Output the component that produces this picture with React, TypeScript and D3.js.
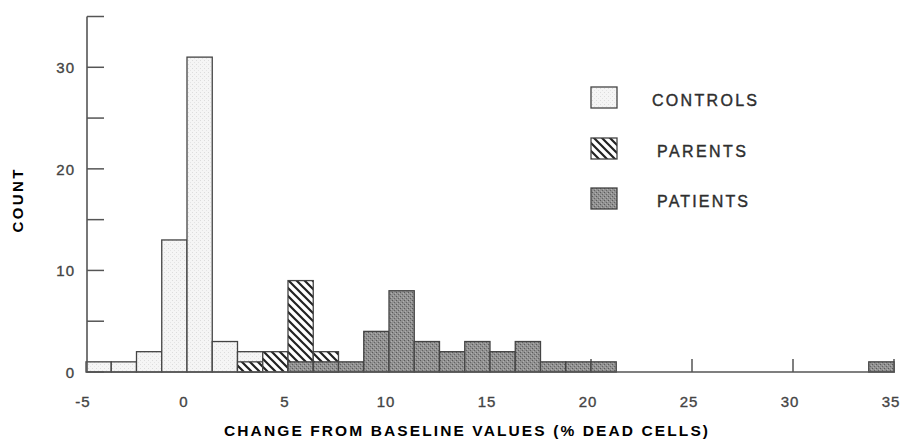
import * as d3 from "d3";

// bin starts (% dead cells), bins are 1.25 wide
const binStarts = [
  -5, -3.75, -2.5, -1.25, 0, 1.25, 2.5, 3.75, 5, 6.25, 7.5, 8.75, 10, 11.25, 12.5, 13.75,
  15, 16.25, 17.5, 18.75, 20, 21.25, 22.5, 23.75, 25, 26.25, 27.5, 28.75, 30, 31.25, 32.5, 33.75,
];
const binWidth = 1.25;

const controls = [1, 1, 2, 13, 31, 3, 2, 0, 0, 0, 0, 0, 0, 0, 0, 0, 0, 0, 0, 0, 0, 0, 0, 0, 0, 0, 0, 0, 0, 0, 0, 0];
const parents = [0, 0, 0, 0, 0, 0, 1, 2, 9, 2, 0, 0, 0, 0, 0, 0, 0, 0, 0, 0, 0, 0, 0, 0, 0, 0, 0, 0, 0, 0, 0, 0];
const patients = [0, 0, 0, 0, 0, 0, 0, 0, 1, 1, 1, 4, 8, 3, 2, 3, 2, 3, 1, 1, 1, 0, 0, 0, 0, 0, 0, 0, 0, 0, 0, 1];

const xTicks = [-5, 0, 5, 10, 15, 20, 25, 30, 35];
const yTicks = [0, 5, 10, 15, 20, 25, 30, 35];
const yLabels = [0, 10, 20, 30];

const groups = [
  { name: "CONTROLS", values: controls, fill: "url(#stipLight)", y: 97, len: 105 },
  { name: "PARENTS", values: parents, fill: "url(#hatch)", y: 148, len: 89 },
  { name: "PATIENTS", values: patients, fill: "url(#stipDark)", y: 198, len: 91 },
];

export default function App() {
  const x = d3.scaleLinear().domain([-5, 35]).range([86, 894]);
  const y = d3.scaleLinear().domain([0, 35]).range([372, 16.5]);
  const axisColor = "#555";
  const font = "'Liberation Sans', Arial, Helvetica, sans-serif";

  return (
    <svg width={901} height={441} style={{ position: "absolute", left: 0, top: 0, background: "#fff" }}>
      <defs>
        <pattern id="stipLight" width={4} height={4} patternUnits="userSpaceOnUse">
          <rect width={4} height={4} fill="#f5f5f5" />
          <rect x={0} y={0} width={1} height={1} fill="#dcdcdc" />
          <rect x={2} y={2} width={1} height={1} fill="#e4e4e4" />
        </pattern>
        <pattern id="stipDark" width={4} height={4} patternUnits="userSpaceOnUse">
          <rect width={4} height={4} fill="#919191" />
          <rect x={0} y={0} width={1} height={1} fill="#5a5a5a" />
          <rect x={2} y={2} width={1} height={1} fill="#646464" />
          <rect x={3} y={1} width={1} height={1} fill="#b0b0b0" />
          <rect x={1} y={3} width={1} height={1} fill="#acacac" />
        </pattern>
        <pattern id="hatch" width={8} height={8} patternUnits="userSpaceOnUse">
          <rect width={8} height={8} fill="#fff" />
          <path d="M0,0 L8,8 M-4,4 L4,12 M4,-4 L12,4" stroke="#222" strokeWidth={2.2} />
        </pattern>
      </defs>

      {/* x ticks (inward) */}
      {xTicks.slice(1).map((t) => (
        <line key={"xt" + t} x1={x(t)} x2={x(t)} y1={y(0)} y2={y(0) - 13} stroke={axisColor} strokeWidth={1.5} />
      ))}

      {/* bars, drawn in order so patients sit in front */}
      {groups.map((g) => (
        <g key={g.name}>
          {g.values.map((v, i) =>
            v > 0 ? (
              <rect
                key={i}
                x={x(binStarts[i])}
                y={y(v)}
                width={x(binStarts[i] + binWidth) - x(binStarts[i])}
                height={y(0) - y(v)}
                fill={g.fill}
                stroke="#444"
                strokeWidth={1.3}
              />
            ) : null
          )}
        </g>
      ))}

      {/* axes */}
      <line x1={x(-5)} x2={x(35) + 1} y1={y(0)} y2={y(0)} stroke={axisColor} strokeWidth={1.6} />
      <line x1={x(-5) + 1} x2={x(-5) + 1} y1={y(35)} y2={y(0)} stroke={axisColor} strokeWidth={1.6} />
      {yTicks.map((t) => (
        <line key={"yt" + t} x1={x(-5) + 1} x2={x(-5) + 18} y1={y(t)} y2={y(t)} stroke={axisColor} strokeWidth={1.5} />
      ))}

      {yLabels.map((t) => (
        <text key={"yl" + t} x={75} y={y(t) + 6} textAnchor="end" fontFamily={font} fontSize={15}
          fill="#444" stroke="#444" strokeWidth={0.35} letterSpacing={1}>
          {t}
        </text>
      ))}
      {xTicks.map((t) => (
        <text key={"xl" + t} x={x(t) - 3} y={407} textAnchor="middle" fontFamily={font} fontSize={15}
          fill="#444" stroke="#444" strokeWidth={0.35} letterSpacing={1}>
          {t}
        </text>
      ))}

      {/* legend */}
      {groups.map((g) => (
        <g key={"lg" + g.name}>
          <rect x={591} y={g.y - 10} width={26} height={21} fill={g.fill} stroke="#444" strokeWidth={1.3} />
          <text
            x={g.name === "CONTROLS" ? 652 : 657}
            y={g.y + 9}
            fontFamily={font}
            fontSize={16}
            fill="#2e2e2e"
            stroke="#2e2e2e"
            strokeWidth={0.4}
            textLength={g.len}
            lengthAdjust="spacing"
          >
            {g.name}
          </text>
        </g>
      ))}

      {/* axis titles */}
      <text
        transform="translate(23,201) rotate(-90)"
        textAnchor="middle"
        fontFamily={font}
        fontWeight="bold"
        fontSize={15}
        fill="#000"
        textLength={63}
        lengthAdjust="spacing"
      >
        COUNT
      </text>
      <text
        x={224}
        y={436}
        fontFamily={font}
        fontWeight="bold"
        fontSize={15.5}
        fill="#000"
        textLength={484}
        lengthAdjust="spacing"
      >
        CHANGE FROM BASELINE VALUES (% DEAD CELLS)
      </text>
    </svg>
  );
}
